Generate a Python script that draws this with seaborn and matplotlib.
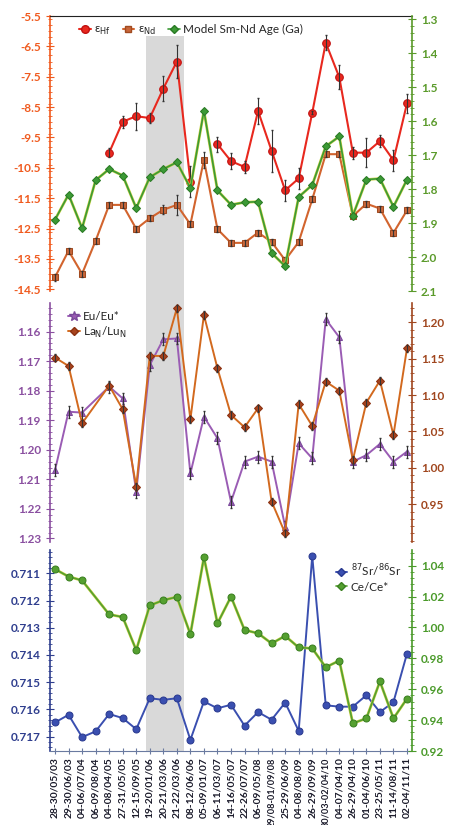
import numpy as np
import pandas as pd
import matplotlib
matplotlib.use("Agg")
import matplotlib.pyplot as plt
from matplotlib.lines import Line2D
from matplotlib.ticker import MultipleLocator
import seaborn as sns

nan = np.nan

# sampling dates (x categories)
dates = ["28-30/05/03", "29-30/06/03", "04-06/07/04", "06-09/08/04", "04-08/04/05",
         "27-31/05/05", "12-15/09/05", "19-20/01/06", "20-21/03/06", "21-22/03/06",
         "08-12/06/06", "05-09/01/07", "06-11/03/07", "14-16/05/07", "22-26/07/07",
         "06-09/05/08", "29/08-01/09/08", "25-29/06/09", "04-08/08/09", "26-29/09/09",
         "30/03-02/04/10", "04-07/04/10", "26-29/04/10", "01-04/06/10", "23-25/05/11",
         "11-14/08/11", "02-04/11/11"]

# panel 1
e_hf = [nan, nan, nan, nan, -10.0, -8.98, -8.8, -8.86, -7.89, -7.0, -10.95, nan, -9.72,
        -10.28, -10.47, -8.63, -9.94, -11.24, -10.85, -8.69, -6.38, -7.52, -10.0, -10.0,
        -9.62, -10.25, -8.38]
e_hf_err = [nan, nan, nan, nan, 0.15, 0.2, 0.45, 0.15, 0.4, 0.55, 0.5, nan, 0.25, 0.27,
            0.2, 0.44, 0.7, 0.35, 0.35, 0.05, 0.25, 0.4, 0.2, 0.47, 0.2, 0.35, 0.3]
e_nd = [-14.1, -13.23, -13.99, -12.9, -11.72, -11.72, -12.51, -12.16, -11.88, -11.72,
        -12.36, -10.24, -12.52, -12.97, -12.97, -12.63, -12.94, -13.54, -12.94, -11.54,
        -10.05, -10.05, -12.09, -11.68, -11.84, -12.64, -11.9]
e_nd_err = [0.12, 0.1, 0.1, 0.1, 0.1, 0.1, 0.1, 0.1, 0.15, 0.33, 0.1, 0.25, 0.1, 0.1,
            0.1, 0.1, 0.1, 0.12, 0.1, 0.1, 0.1, 0.1, 0.1, 0.1, 0.1, 0.1, 0.1]
model_age = [1.89, 1.816, 1.915, 1.774, 1.741, 1.76, 1.856, 1.765, 1.741, 1.721, 1.797,
             1.569, 1.804, 1.846, 1.839, 1.837, 1.988, 2.027, 1.823, 1.788, 1.674, 1.645,
             1.878, 1.772, 1.769, 1.852, 1.772]

# panel 2
eu = [1.2069, 1.1871, 1.1874, nan, 1.1786, 1.1826, 1.2142, 1.1713, 1.1626, 1.1623,
      1.2080, 1.1888, 1.1961, 1.2176, 1.2040, 1.2023, 1.2040, 1.2260, 1.1978, 1.2029,
      1.1558, 1.1619, 1.2040, 1.2018, 1.1980, 1.2040, 1.2006]
eu_err = [0.002] * 27
la_lu = [1.1515, 1.140, 1.0613, nan, 1.113, 1.0805, 0.9743, 1.1538, 1.1538, 1.2192,
         1.0668, 1.210, 1.1368, 1.0727, 1.0558, 1.0819, 0.9537, 0.9102, 1.0878, 1.0576,
         1.1185, 1.1061, 1.0109, 1.0897, 1.1199, 1.0452, 1.1643]
la_lu_err = [0.005] * 27

# panel 3
sr = [0.71648, 0.7162, 0.71702, 0.71681, 0.71617, 0.71632, 0.71673, 0.71559, 0.71565,
      0.71559, 0.71712, 0.71571, 0.71596, 0.71583, 0.7166, 0.7161, 0.71638, 0.71575,
      0.71679, 0.71036, 0.71585, 0.7159, 0.7159, 0.71548, 0.7161, 0.71573, 0.71395]
ce = [1.0377, 1.0329, 1.0304, nan, 1.0084, 1.0067, 0.9853, 1.0142, 1.0176, 1.0197,
      0.9956, 1.0454, 1.0026, 1.0199, 0.9983, 0.9962, 0.9896, 0.9945, 0.987, 0.9864,
      0.9742, 0.9785, 0.9379, 0.9411, 0.965, 0.9411, 0.9539]

x = np.arange(len(dates))
df = pd.DataFrame({"x": x, "ehf": e_hf, "end": e_nd, "age": model_age, "eu": eu,
                   "la": la_lu, "sr": sr, "ce": ce, "seg": (x > 11).astype(int)})

sns.set_style("ticks")
plt.rcParams['font.family'] = ['Lato', 'DejaVu Sans']

RED = '#e8281e'
ND = '#d2642e'
GREEN = '#3c9a35'
PURPLE = '#9a5cb4'
BROWN = '#a8441e'
BLUE = '#3a4fb0'
CE = '#55a030'
YEL = '#c8d040'

fig = plt.figure(figsize=(4.51, 8.25), dpi=100)
L, W = 50 / 451, 362 / 451
ax1 = fig.add_axes([L, 1 - 291 / 825, W, 275 / 825], facecolor='none')
ax2 = fig.add_axes([L, 1 - 542 / 825, W, 239 / 825], facecolor='none')
ax3 = fig.add_axes([L, 1 - 751 / 825, W, 201 / 825], facecolor='none')
ax1r, ax2r, ax3r = ax1.twinx(), ax2.twinx(), ax3.twinx()

# grey band
ax1.axvspan(6.7, 9.55, ymin=-0.05, ymax=0.927, color='#d9d9d9', lw=0, clip_on=False, zorder=0)
ax2.axvspan(6.7, 9.55, ymin=-0.04, ymax=1, color='#d9d9d9', lw=0, clip_on=False, zorder=0)
ax3.axvspan(6.7, 9.55, color='#d9d9d9', lw=0, zorder=0)

# panel 1
sns.lineplot(data=df, x="x", y="ehf", units="seg", estimator=None, ax=ax1, color=RED,
             lw=1.5, marker='o', ms=5.5, mec='#c01010', legend=False, zorder=4)
ax1.errorbar(x, e_hf, yerr=e_hf_err, fmt='none', ecolor='#333333', elinewidth=0.8, capsize=1, zorder=5)
sns.lineplot(data=df, x="x", y="end", ax=ax1, color=ND, lw=1.5, marker='s', ms=5,
             mfc='#c8663a', mec='#a04a20', legend=False, zorder=3)
ax1.errorbar(x, e_nd, yerr=e_nd_err, fmt='none', ecolor='#333333', elinewidth=0.8, capsize=1, zorder=5)
sns.lineplot(data=df, x="x", y="age", ax=ax1r, color=YEL, lw=2.0, legend=False)
sns.lineplot(data=df, x="x", y="age", ax=ax1r, color=GREEN, lw=1.2, marker='D', ms=4,
             mec='#2a7a25', legend=False)

ax1.set_ylim(-14.555, -5.5)
ax1r.set_ylim(2.0984, 1.2903)
ax1.set_yticks(np.arange(-14.5, -5.4, 1.0))
ax1.yaxis.set_minor_locator(MultipleLocator(0.2))
ax1r.set_yticks(np.arange(1.3, 2.11, 0.1))
ax1r.yaxis.set_minor_locator(MultipleLocator(0.02))

# panel 2
sns.lineplot(data=df, x="x", y="eu", ax=ax2, color=PURPLE, lw=1.4, marker='^', ms=5,
             mec='#7a4a9a', legend=False, zorder=3)
ax2.errorbar(x, eu, yerr=eu_err, fmt='none', ecolor='#333333', elinewidth=0.8, capsize=1, zorder=5)
sns.lineplot(data=df, x="x", y="la", ax=ax2r, color='#d2691e', lw=1.4, marker='D', ms=4,
             mfc=BROWN, mec='#8a3010', legend=False)
ax2r.errorbar(x, la_lu, yerr=la_lu_err, fmt='none', ecolor='#333333', elinewidth=0.8, capsize=1)

ax2.set_ylim(1.2312, 1.1503)
ax2r.set_ylim(0.8982, 1.2265)
ax2.set_yticks(np.arange(1.16, 1.2301, 0.01))
ax2.yaxis.set_minor_locator(MultipleLocator(0.002))
ax2r.set_yticks(np.arange(0.95, 1.2001, 0.05))
ax2r.yaxis.set_minor_locator(MultipleLocator(0.01))

# panel 3
sns.lineplot(data=df, x="x", y="sr", ax=ax3, color=BLUE, lw=1.4, marker='o', ms=5,
             mec='#2a3a90', legend=False, zorder=3)
sns.lineplot(data=df, x="x", y="ce", ax=ax3r, color=YEL, lw=2.0, legend=False)
sns.lineplot(data=df, x="x", y="ce", ax=ax3r, color=CE, lw=1.2, marker='o', ms=5,
             mec='#3a8020', legend=False)

ax3.set_ylim(0.71753, 0.71014)
ax3r.set_ylim(0.9211, 1.0501)
ax3.set_yticks(np.arange(0.711, 0.71701, 0.001))
ax3.yaxis.set_minor_locator(MultipleLocator(0.0002))
ax3r.set_yticks(np.arange(0.92, 1.0401, 0.02))
ax3r.yaxis.set_minor_locator(MultipleLocator(0.004))

# axes styling
colors = [(ax1, ax1r, '#f05a1e', '#5a9a2a', '{:.1f}', '{:.1f}'),
          (ax2, ax2r, '#8a4fa0', '#a0461e', '{:.2f}', '{:.2f}'),
          (ax3, ax3r, '#2f3e8e', '#4a9a2a', '{:.3f}', '{:.2f}')]
for a, ar, cl, cr, fl, fr in colors:
    a.set_xlim(-0.37, len(dates) - 0.63)
    a.set_ylabel('')
    ar.set_ylabel('')
    a.set_xlabel('')
    for s in ['top', 'right', 'bottom']:
        a.spines[s].set_visible(False)
    for s in ['top', 'left', 'bottom']:
        ar.spines[s].set_visible(False)
    a.spines['left'].set_color(cl)
    a.spines['left'].set_linewidth(1.2)
    ar.spines['right'].set_color(cr)
    ar.spines['right'].set_linewidth(1.2)
    a.tick_params(axis='y', which='both', colors=cl, direction='inout', labelsize=8.5)
    a.tick_params(axis='y', which='major', length=6)
    a.tick_params(axis='y', which='minor', length=3)
    ar.tick_params(axis='y', which='both', colors=cr, direction='inout', labelsize=8.5)
    ar.tick_params(axis='y', which='major', length=6)
    ar.tick_params(axis='y', which='minor', length=3)
    a.set_yticklabels([fl.format(v) for v in a.get_yticks()], fontweight='bold')
    ar.set_yticklabels([fr.format(v) for v in ar.get_yticks()], fontweight='bold')
    if a is not ax3:
        a.set_xticks([])

ax1.spines['top'].set_visible(True)
ax1.spines['top'].set_color('#222222')

ax3.spines['bottom'].set_visible(True)
ax3.spines['bottom'].set_color('#6a7aa0')
ax3.set_xticks(x)
ax3.set_xticklabels(dates, rotation=90, fontsize=7.4, fontweight='bold', color='#1a1a2a')
ax3.tick_params(axis='x', colors='#6a7aa0', direction='inout', length=5, labelcolor='#1a1a2a', pad=2)
# the two longest labels a touch smaller so they fit in the figure
for t in ax3.get_xticklabels():
    if len(t.get_text()) > 12:
        t.set_fontsize(6.6)

# legends
h1 = [Line2D([], [], color=RED, marker='o', ms=5.5, lw=1.5, mec='#c01010'),
      Line2D([], [], color=ND, marker='s', ms=5, lw=1.5, mfc='#c8663a', mec='#a04a20'),
      Line2D([], [], color=GREEN, marker='D', ms=4, lw=1.2, mec='#2a7a25')]
ax1.legend(h1, ['ε$_{\\mathrm{Hf}}$', 'ε$_{\\mathrm{Nd}}$', 'Model Sm-Nd Age (Ga)'],
           loc='upper left', bbox_to_anchor=(0.05, 1.01), ncol=3, frameon=False, fontsize=8.5,
           handlelength=1.0, handletextpad=0.3, columnspacing=1.0)

h2 = [Line2D([], [], color=PURPLE, marker='*', ms=7, lw=1.4, mec='#7a4a9a'),
      Line2D([], [], color='#d2691e', marker='D', ms=4, lw=1.4, mfc=BROWN, mec='#8a3010')]
ax2.legend(h2, ['Eu/Eu*', 'La$_{\\mathrm{N}}$/Lu$_{\\mathrm{N}}$'], loc='upper left',
           bbox_to_anchor=(0.02, 1.01), frameon=False, fontsize=8.5, handlelength=1.0,
           handletextpad=0.3, labelspacing=0.2)

h3 = [Line2D([], [], color=BLUE, marker='D', ms=4, lw=1.4, mec='#2a3a90'),
      Line2D([], [], color=CE, marker='D', ms=4, lw=1.2, mec='#3a8020')]
ax3r.legend(h3, ['$^{87}$Sr/$^{86}$Sr', 'Ce/Ce*'], loc='upper right',
            bbox_to_anchor=(1.0, 0.99), frameon=False, fontsize=8.5, handlelength=1.0,
            handletextpad=0.3, labelspacing=0.2)

fig.savefig("out.png", dpi=100)
